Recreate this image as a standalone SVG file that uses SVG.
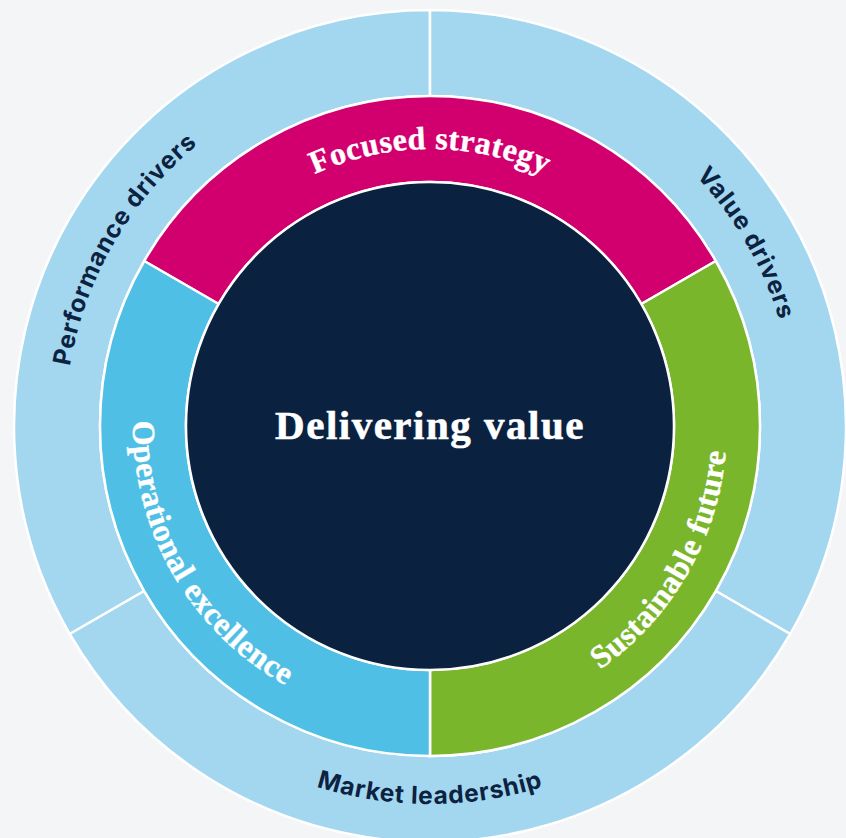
<svg xmlns="http://www.w3.org/2000/svg" xmlns:xlink="http://www.w3.org/1999/xlink" width="846" height="838" viewBox="0 0 846 838">
  <style>
    .bg { fill: #f3f5f7; }
    .seg { stroke: #ffffff; stroke-width: 2.5; stroke-linejoin: round; }
    .outer { fill: #a3d6ef; }
    .magenta { fill: #d2006f; }
    .green { fill: #7ab62c; }
    .blue { fill: #50bfe6; }
    .core { fill: #0a2240; stroke: #ffffff; stroke-width: 2.5; }
    .serif { font-family: "Liberation Serif", "Times New Roman", serif; font-weight: bold; fill: #ffffff; stroke: #ffffff; }
    .ring-label { font-size: 32px; letter-spacing: 0.5px; stroke-width: 0.4px; }
    .title { font-size: 41px; letter-spacing: 1.5px; stroke-width: 0.6px; }
    .sans { font-family: Inter, "Liberation Sans", Arial, sans-serif; font-weight: 700; fill: #0b2341; font-size: 24.5px; letter-spacing: 0.8px; }
  </style>
  <defs>
    <!-- baseline arcs, centre (430,426) -->
    <path id="arc-focused" d="M190.12,287.5 A277,277 0 0 1 669.88,287.5"/>
    <path id="arc-operational" d="M172.79,277.5 A297,297 0 0 0 430,723"/>
    <path id="arc-sustainable" d="M430,723 A297,297 0 0 0 687.21,277.5"/>
    <path id="arc-performance" d="M113.9,608.5 A365,365 0 0 1 430,61"/>
    <path id="arc-value" d="M430,61 A365,365 0 0 1 746.1,608.5"/>
    <path id="arc-market" d="M102.64,615 A378,378 0 0 0 757.36,615"/>
  </defs>

  <rect class="bg" x="0" y="0" width="846" height="838"/>

  <!-- outer ring: drivers -->
  <g id="performance-drivers">
    <path class="seg outer" d="M69.74,634 A416,416 0 0 1 430,10 L430,96 A330,330 0 0 0 144.21,591 Z"/>
    <text class="sans"><textPath xlink:href="#arc-performance" startOffset="50%" text-anchor="middle">Performance drivers</textPath></text>
  </g>
  <g id="value-drivers">
    <path class="seg outer" d="M430,10 A416,416 0 0 1 790.26,634 L715.79,591 A330,330 0 0 0 430,96 Z"/>
    <text class="sans"><textPath xlink:href="#arc-value" startOffset="50%" text-anchor="middle">Value drivers</textPath></text>
  </g>
  <g id="market-leadership">
    <path class="seg outer" d="M790.26,634 A416,416 0 0 1 69.74,634 L144.21,591 A330,330 0 0 0 715.79,591 Z"/>
    <text class="sans"><textPath xlink:href="#arc-market" startOffset="50%" text-anchor="middle">Market leadership</textPath></text>
  </g>

  <!-- middle ring: pillars -->
  <g id="focused-strategy">
    <path class="seg magenta" d="M144.21,261 A330,330 0 0 1 715.79,261 L641.31,304 A244,244 0 0 0 218.69,304 Z"/>
    <text class="serif ring-label"><textPath xlink:href="#arc-focused" startOffset="50%" text-anchor="middle">Focused strategy</textPath></text>
  </g>
  <g id="sustainable-future">
    <path class="seg green" d="M715.79,261 A330,330 0 0 1 430,756 L430,670 A244,244 0 0 0 641.31,304 Z"/>
    <text class="serif ring-label"><textPath xlink:href="#arc-sustainable" startOffset="50%" text-anchor="middle">Sustainable future</textPath></text>
  </g>
  <g id="operational-excellence">
    <path class="seg blue" d="M430,756 A330,330 0 0 1 144.21,261 L218.69,304 A244,244 0 0 0 430,670 Z"/>
    <text class="serif ring-label"><textPath xlink:href="#arc-operational" startOffset="50%" text-anchor="middle">Operational excellence</textPath></text>
  </g>

  <!-- core -->
  <g id="delivering-value">
    <circle class="core" cx="430" cy="426" r="244"/>
    <text class="serif title" x="430" y="439" text-anchor="middle">Delivering value</text>
  </g>
</svg>
